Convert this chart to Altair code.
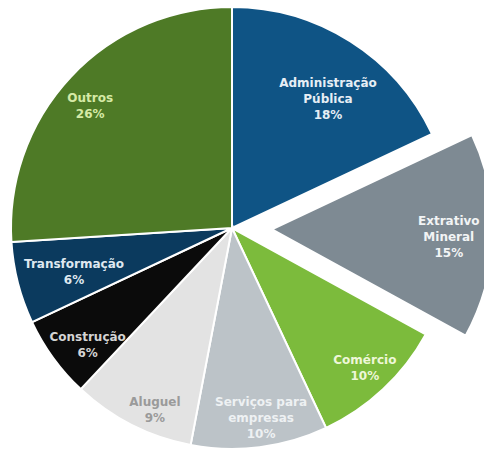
import math
import altair as alt
import pandas as pd

categories = ["Administração Pública", "Extrativo Mineral", "Comércio",
              "Serviços para empresas", "Aluguel", "Construção",
              "Transformação", "Outros"]
values = [18, 15, 10, 10, 9, 6, 6, 26]
labels = ["Administração\nPública\n18%", "Extrativo\nMineral\n15%",
          "Comércio\n10%", "Serviços para\nempresas\n10%", "Aluguel\n9%",
          "Construção\n6%", "Transformação\n6%", "Outros\n26%"]

# styling
colors = ["#0f5485", "#7e8a93", "#7cbb3c", "#bcc3c8", "#e3e3e3",
          "#0b0b0b", "#0b3a5e", "#4e7a26"]
text_colors = ["#e6eef5", "#f2f4f5", "#eef7d8", "#eef1f3", "#9a9a9a",
               "#d4d4d4", "#dfe8f0", "#d6eaa6"]
label_radius = [161, 177, 193, 192, 198, 186, 164, 187]
label_angle_shift = [4.2, 0.8, -0.3, -1.5, -4.1, -3.1, -1.2, -2.5]  # degrees
exploded = "Extrativo Mineral"
CX, CY, R = 232, 228, 221
EXPLODE = 40
LH = 16

starts, ends, acc = [], [], 0
for v in values:
    starts.append(acc)
    acc += v
    ends.append(acc)
mids = [(s + e) / 2 for s, e in zip(starts, ends)]

# convert the wanted label-block centre into the anchor of the first line
anchor_t, anchor_r = [], []
for lab, m, lr, sh in zip(labels, mids, label_radius, label_angle_shift):
    a = m / 100 * 2 * math.pi + math.radians(sh)
    dx = lr * math.sin(a)
    dy = -lr * math.cos(a) - (lab.count("\n")) * LH / 2
    anchor_r.append(math.hypot(dx, dy))
    anchor_t.append((math.atan2(dx, -dy) / (2 * math.pi) * 100) % 100)

df = pd.DataFrame({
    "cat": categories, "value": values, "label": labels,
    "start": starts, "end": ends, "ta": anchor_t, "lr": anchor_r,
})

tscale = alt.Scale(domain=[0, 100], range=[0, 2 * math.pi])
cscale = alt.Scale(domain=categories, range=colors)
tcscale = alt.Scale(domain=categories, range=text_colors)

mid_ex = mids[categories.index(exploded)] / 100 * 2 * math.pi
ex_x = CX + EXPLODE * math.sin(mid_ex)
ex_y = CY - EXPLODE * math.cos(mid_ex)

base = alt.Chart(df)

def arcs(filt, cx, cy):
    return base.transform_filter(filt).mark_arc(
        outerRadius=R, stroke="white", strokeWidth=2
    ).encode(
        theta=alt.Theta("start:Q", scale=tscale),
        theta2="end:Q",
        color=alt.Color("cat:N", scale=cscale, legend=None),
        x=alt.value(cx), y=alt.value(cy),
    )

def texts(filt, cx, cy):
    return base.transform_filter(filt).mark_text(
        font="DejaVu Sans", fontWeight="bold", fontSize=12,
        lineBreak="\n", lineHeight=LH, align="center", baseline="middle"
    ).encode(
        theta=alt.Theta("ta:Q", scale=tscale),
        radius=alt.Radius("lr:Q", scale=None),
        text="label:N",
        color=alt.Color("cat:N", scale=tcscale, legend=None),
        x=alt.value(cx), y=alt.value(cy),
    )

f_main = alt.datum.cat != exploded
f_ex = alt.datum.cat == exploded

chart = alt.layer(
    arcs(f_main, CX, CY),
    arcs(f_ex, ex_x, ex_y),
    texts(f_main, CX, CY),
    texts(f_ex, ex_x, ex_y),
).resolve_scale(color="independent").properties(
    width=484, height=449, autosize=alt.AutoSizeParams(type="none"),
    padding=0, background="white"
).configure_view(stroke=None)

chart.save("out.html", embed_options={"renderer": "svg", "actions": False})
